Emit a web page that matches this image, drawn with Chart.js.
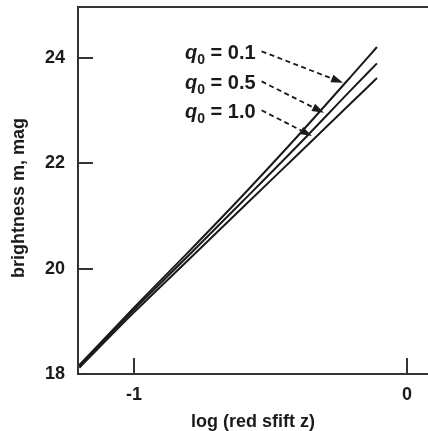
<!DOCTYPE html>
<html>
<head>
<meta charset="utf-8">
<script src="https://cdn.jsdelivr.net/npm/chart.js@4.4.1/dist/chart.umd.min.js"></script>
<style>
  html, body { margin: 0; padding: 0; background: #fff; }
  #wrap { width: 428px; height: 431px; }
</style>
</head>
<body>
<div id="wrap"><canvas id="chartCanvas"></canvas></div>
<script>
// log (red shift z), shared by the three curves
const logZ = [-1.2, -1.0, -0.8, -0.6, -0.4, -0.2, -0.11];
// brightness m (mag)
const magQ01 = [18.17, 19.26, 20.32, 21.40, 22.52, 23.68, 24.21];
const magQ05 = [18.15, 19.22, 20.25, 21.29, 22.34, 23.42, 23.90];
const magQ10 = [18.12, 19.17, 20.17, 21.17, 22.17, 23.17, 23.62];

const xTicks = [-1, 0];
const yTicks = [18, 20, 22, 24];

const q0Values = ['0.1', '0.5', '1.0'];
// label rows and arrow tips, in data units
const labelLogZ = -0.813;
const labelMag = [24.09, 23.52, 22.97];
const tipLogZ = [-0.234, -0.304, -0.348];
const tipMag = [23.53, 22.96, 22.52];

const ink = '#1a1a1a';
const frame = '#333';
const FONT = '"Liberation Sans", Arial, sans-serif';

function toPoints(mags) {
  return logZ.map((v, i) => ({ x: v, y: mags[i] }));
}

function curve(label, mags) {
  return {
    label: label,
    data: toPoints(mags),
    borderColor: ink,
    borderWidth: 2,
    pointRadius: 0,
    cubicInterpolationMode: 'monotone',
    fill: false
  };
}

// top edge of the frame
const topFrame = {
  id: 'topFrame',
  afterDraw(chart) {
    const { ctx, chartArea: a } = chart;
    ctx.save();
    ctx.strokeStyle = frame;
    ctx.lineWidth = 2;
    ctx.beginPath();
    ctx.moveTo(a.left - 1, a.top);
    ctx.lineTo(a.right, a.top);
    ctx.stroke();
    ctx.restore();
  }
};

// q0 labels with dashed arrows
const q0Labels = {
  id: 'q0Labels',
  afterDatasetsDraw(chart) {
    const { ctx, scales: { x, y } } = chart;
    ctx.save();
    ctx.fillStyle = ink;
    ctx.strokeStyle = ink;
    ctx.textBaseline = 'middle';
    q0Values.forEach((val, i) => {
      const tx = x.getPixelForValue(labelLogZ);
      const ty = y.getPixelForValue(labelMag[i]);
      ctx.font = 'italic bold 20px ' + FONT;
      ctx.fillText('q', tx, ty);
      let cx = tx + ctx.measureText('q').width;
      ctx.font = 'bold 14px ' + FONT;
      ctx.fillText('0', cx, ty + 7);
      cx += ctx.measureText('0').width;
      ctx.font = 'bold 20px ' + FONT;
      const rest = ' = ' + val;
      ctx.fillText(rest, cx, ty);
      cx += ctx.measureText(rest).width;

      const sx = cx + 6, sy = ty - 2;
      const ex = x.getPixelForValue(tipLogZ[i]);
      const ey = y.getPixelForValue(tipMag[i]);
      const ang = Math.atan2(ey - sy, ex - sx);
      const head = 12, half = 4;
      const bx = ex - head * Math.cos(ang), by = ey - head * Math.sin(ang);
      ctx.lineWidth = 1.8;
      ctx.setLineDash([5, 3.5]);
      ctx.beginPath();
      ctx.moveTo(sx, sy);
      ctx.lineTo(bx, by);
      ctx.stroke();
      ctx.setLineDash([]);
      ctx.beginPath();
      ctx.moveTo(ex, ey);
      ctx.lineTo(bx + half * Math.sin(ang), by - half * Math.cos(ang));
      ctx.lineTo(bx - half * Math.sin(ang), by + half * Math.cos(ang));
      ctx.closePath();
      ctx.fill();
    });
    ctx.restore();
  }
};

const tickFont = { family: FONT, size: 18, weight: 'bold' };

new Chart(document.getElementById('chartCanvas'), {
  type: 'line',
  data: {
    datasets: [
      curve('q0 = 0.1', magQ01),
      curve('q0 = 0.5', magQ05),
      curve('q0 = 1.0', magQ10)
    ]
  },
  options: {
    responsive: true,
    maintainAspectRatio: false,
    animation: false,
    layout: { padding: { top: 7, right: 0, bottom: 0, left: 0 } },
    plugins: {
      legend: { display: false },
      tooltip: { enabled: false }
    },
    scales: {
      x: {
        type: 'linear',
        position: 'bottom',
        min: -1.205,
        max: 0.077,
        afterBuildTicks: s => { s.ticks = xTicks.map(v => ({ value: v })); },
        afterFit: s => { s.height = 57; s.paddingLeft = 0; s.paddingRight = 0; },
        ticks: { font: tickFont, color: ink, padding: 26 },
        grid: { drawOnChartArea: false, tickLength: -16, color: frame, lineWidth: 2 },
        border: { color: frame, width: 2 },
        title: {
          display: true,
          text: 'log (red sfift z)',
          color: ink,
          font: { family: FONT, size: 18, weight: 'bold', lineHeight: 1 },
          padding: { top: 0, bottom: 0 }
        }
      },
      y: {
        min: 18,
        max: 24.97,
        afterBuildTicks: s => { s.ticks = yTicks.map(v => ({ value: v })); },
        afterFit: s => { s.width = 78; s.paddingTop = 0; s.paddingBottom = 0; },
        ticks: { font: tickFont, color: ink, padding: 28 },
        grid: { drawOnChartArea: false, tickLength: -15, color: frame, lineWidth: 2 },
        border: { color: frame, width: 2 },
        title: {
          display: true,
          // trailing spaces nudge the title a little lower, as in the figure
          text: 'brightness m, mag   ',
          color: ink,
          font: { family: FONT, size: 18, weight: 'bold', lineHeight: 1 },
          padding: { top: 10, bottom: 0 }
        }
      }
    }
  },
  plugins: [q0Labels, topFrame]
});
</script>
</body>
</html>
